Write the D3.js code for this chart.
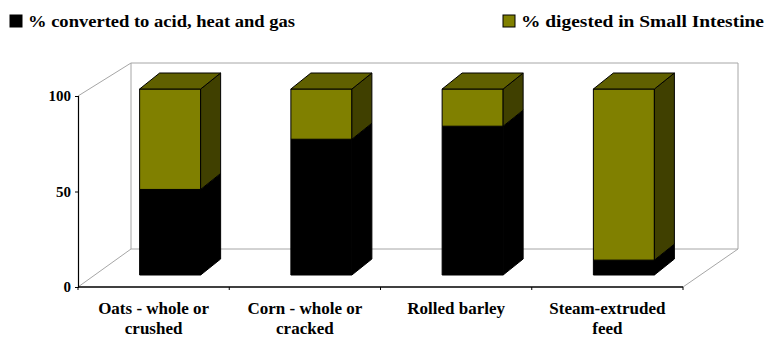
<!DOCTYPE html>
<html>
<head>
<meta charset="utf-8">
<script src="https://cdn.jsdelivr.net/npm/d3@7"></script>
<style>
  html, body { margin: 0; padding: 0; background: #fff; }
  svg { display: block; }
  svg text { font-family: "Liberation Serif", "Times New Roman", Times, "DejaVu Serif", serif !important; font-weight: bold; fill: #000; }
</style>
</head>
<body>
<svg id="chart" width="768" height="340"></svg>
<script>
// Feed categories and the share of each that is fermented vs digested
const categories = ["Oats - whole or crushed", "Corn - whole or cracked", "Rolled barley", "Steam-extruded feed"];
const convertedPct = [46, 73, 80, 8];
const digestedPct = [54, 27, 20, 92];
const seriesNames = ["% converted to acid, heat and gas", "% digested in Small Intestine"];
const yTickValues = [0, 50, 100];

const colors = {
  converted: { front: "#000000", side: "#000000", top: "#000000" },
  digested: { front: "#808000", side: "#404000", top: "#606000" }
};

const svg = d3.select("#chart");

// Front plane of the 3D box
const x = d3.scaleBand().domain(categories).range([78, 683]);
const yFront = d3.scaleLinear().domain([0, 100]).range([287, 96]);
// Back wall plane
const yBack = d3.scaleLinear().domain([0, 100]).range([249, 63]);
const wallDx = 53;
const xBackL = x.range()[0] + wallDx;
const xBackR = x.range()[1] + 55;

// Plane the bars stand in, and the bars' own depth
const yBar = d3.scaleLinear().domain([0, 100]).range([275, 89]);
const barShift = 16.5;
const barWidth = 61;
const depthDx = 20, depthDy = -16;

// Walls and floor outline
const wall = svg.append("g").attr("stroke", "#a6a6a6").attr("stroke-width", 1).attr("fill", "none");
wall.append("path").attr("d", d3.line()([
  [x.range()[0], yFront(100)], [xBackL, yBack(100)], [xBackR, yBack(100)], [xBackR, yBack(0)], [xBackL, yBack(0)], [xBackL, yBack(100)]
]));
wall.append("line").attr("x1", x.range()[0]).attr("y1", yFront(0)).attr("x2", xBackL).attr("y2", yBack(0));
wall.append("line").attr("x1", x.range()[1]).attr("y1", yFront(0)).attr("x2", xBackR).attr("y2", yBack(0));

// Stacked 3D bars
const stackData = categories.map((c, i) => ({ cat: c, converted: convertedPct[i], digested: digestedPct[i] }));
const stacked = d3.stack().keys(["converted", "digested"])(stackData);

const barsG = svg.append("g").attr("stroke", "#000").attr("stroke-width", 1).attr("stroke-linejoin", "round");
categories.forEach((c, i) => {
  const left = x(c) + x.bandwidth() / 2 + barShift - barWidth / 2;
  const right = left + barWidth;
  stacked.forEach((layer, li) => {
    const [v0, v1] = layer[i];
    if (v1 - v0 <= 0) return;
    const col = colors[layer.key];
    const yt = yBar(v1), yb = yBar(v0);
    const g = barsG.append("g");
    g.append("rect").attr("x", left).attr("y", yt).attr("width", barWidth).attr("height", yb - yt).attr("fill", col.front);
    g.append("path").attr("fill", col.side).attr("d", d3.line()([
      [right, yt], [right + depthDx, yt + depthDy], [right + depthDx, yb + depthDy], [right, yb]
    ]) + "Z");
    if (li === stacked.length - 1) {
      g.append("path").attr("fill", col.top).attr("d", d3.line()([
        [left, yt], [left + depthDx, yt + depthDy], [right + depthDx, yt + depthDy], [right, yt]
      ]) + "Z");
    }
  });
});

const serif = '"Liberation Serif", "Times New Roman", Times, "DejaVu Serif", serif';

// Value axis on the front-left edge
const yAxis = svg.append("g").attr("transform", `translate(${x.range()[0]},0)`)
  .call(d3.axisLeft(yFront).tickValues(yTickValues).tickSize(3).tickPadding(4));
yAxis.attr("font-family", serif).attr("font-size", 15);
yAxis.select(".domain").attr("stroke", "#000").attr("stroke-width", 1.2);
yAxis.selectAll(".tick line").attr("stroke", "#000");
yAxis.selectAll(".tick text").attr("font-family", serif).attr("font-size", 15);

// Category axis along the front-bottom edge
const xAxisG = svg.append("g").attr("font-family", serif);
xAxisG.append("line").attr("x1", x.range()[0]).attr("x2", x.range()[1])
  .attr("y1", yFront(0)).attr("y2", yFront(0)).attr("stroke", "#000").attr("stroke-width", 1.5);
const boundaries = [x.range()[0]].concat(categories.map(c => x(c) + x.bandwidth()));
xAxisG.selectAll("line.tick").data(boundaries).join("line").attr("class", "tick")
  .attr("x1", d => d).attr("x2", d => d).attr("y1", yFront(0)).attr("y2", yFront(0) + 3)
  .attr("stroke", "#000");

// Category labels, wrapped to fit under each band
const labelFont = 17, lineGap = 20, maxWidth = 140;
categories.forEach(c => {
  const cx = x(c) + x.bandwidth() / 2;
  const t = xAxisG.append("text").attr("text-anchor", "middle")
    .attr("x", cx).attr("y", 314).attr("font-family", serif).attr("font-size", labelFont);
  const words = c.split(" ");
  let line = [];
  let tspan = t.append("tspan").attr("x", cx).attr("dy", 0);
  words.forEach(w => {
    line.push(w);
    tspan.text(line.join(" "));
    if (tspan.node().getComputedTextLength() > maxWidth && line.length > 1) {
      line.pop();
      tspan.text(line.join(" "));
      line = [w];
      tspan = t.append("tspan").attr("x", cx).attr("dy", lineGap).text(w);
    }
  });
});

// Legend
const legend = svg.append("g").attr("font-family", serif);
const legendItems = [
  { name: seriesNames[0], color: colors.converted.front, box: 10, text: 28, width: 267 },
  { name: seriesNames[1], color: colors.digested.front, box: 503, text: 521, width: 243 }
];
legendItems.forEach(d => {
  legend.append("rect").attr("x", d.box).attr("y", 15).attr("width", 12).attr("height", 12)
    .attr("fill", d.color).attr("stroke", "#000").attr("stroke-width", 1);
  legend.append("text").attr("x", d.text).attr("y", 27).attr("font-family", serif).attr("font-size", 17)
    .attr("textLength", d.width).attr("lengthAdjust", "spacingAndGlyphs").text(d.name);
});
</script>
</body>
</html>
